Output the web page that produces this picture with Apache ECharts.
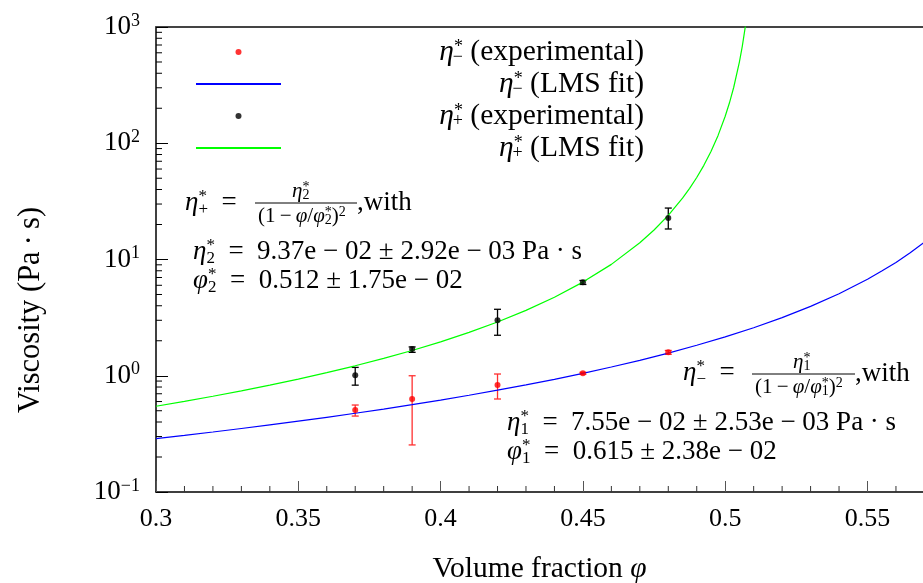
<!DOCTYPE html>
<html><head><meta charset="utf-8">
<script src="https://cdn.jsdelivr.net/npm/echarts@6/dist/echarts.min.js"></script>
<style>html,body{margin:0;padding:0;background:#fff}#c{width:923px;height:583px}</style>
</head><body><div id="c"></div>
<script>
// ---------- data ----------
const phiExp        = [0.37, 0.39, 0.42, 0.45, 0.48];
const etaMinusVal   = [0.507, 0.631, 0.833, 1.05, 1.59];
const etaMinusLow   = [0.45, 0.254, 0.631, 1.03, 1.53];
const etaMinusHigh  = [0.56, 1.00, 1.035, 1.07, 1.65];
const etaPlusVal    = [1.01, 1.70, 3.00, 6.37, 22.7];
const etaPlusLow    = [0.83, 1.59, 2.23, 6.10, 18.3];
const etaPlusHigh   = [1.18, 1.77, 3.73, 6.60, 27.7];

const phiFitMinus = [0.30,0.31,0.32,0.33,0.34,0.35,0.36,0.37,0.38,0.39,0.40,0.41,0.42,0.43,0.44,0.45,0.46,0.47,0.48,0.49,0.50,0.51,0.52,0.53,0.54,0.55,0.555,0.56,0.565,0.57];
const etaFitMinus = [0.2878,0.3070,0.3281,0.3516,0.3775,0.4066,0.4392,0.4757,0.5171,0.5641,0.6177,0.6795,0.7509,0.8344,0.9321,1.049,1.189,1.358,1.567,1.828,2.159,2.590,3.163,3.953,5.073,6.759,7.96,9.44,11.42,14.09];

const phiFitPlus = [0.30,0.31,0.32,0.33,0.34,0.35,0.36,0.37,0.38,0.39,0.40,0.41,0.42,0.43,0.44,0.45,0.46,0.47,0.475,0.48,0.485,0.4875,0.49,0.4925,0.495,0.4975,0.50,0.5015,0.503,0.505,0.506,0.507,0.508];
const etaFitPlus = [0.5464,0.6020,0.6663,0.7415,0.8305,0.9360,1.063,1.218,1.410,1.650,1.958,2.361,2.902,3.653,4.738,6.390,9.079,13.92,17.94,23.99,33.69,40.92,50.75,64.58,85.0,116.8,170.6,222.8,303.2,501.3,682.4,982.5,1536];

const yMinorTicks = [0.2,0.3,0.4,0.5,0.6,0.7,0.8,0.9,2,3,4,5,6,7,8,9,20,30,40,50,60,70,80,90,200,300,400,500,600,700,800,900];
const xMinorTicks = [0.31,0.32,0.33,0.34,0.36,0.37,0.38,0.39,0.41,0.42,0.43,0.44,0.46,0.47,0.48,0.49,0.51,0.52,0.53,0.54,0.56];

const xMin = 0.3, xMax = 0.5695, xStep = 0.05;
const yMin = 0.1, yMax = 1000;

const nExpMinus = 'eta- experimental', nFitMinus = 'eta- fit', nExpPlus = 'eta+ experimental', nFitPlus = 'eta+ fit';
const legendLabels = {};
legendLabels[nExpMinus] = '{e|η}{s|*}{b|−}{t| (experimental)}';
legendLabels[nFitMinus] = '{e|η}{s|*}{b|−}{t| (LMS fit)}';
legendLabels[nExpPlus]  = '{e|η}{s|*}{b|+}{t| (experimental)}';
legendLabels[nFitPlus]  = '{e|η}{s|*}{b|+}{t| (LMS fit)}';

// ---------- styles ----------
const F = "'Liberation Serif', 'Times New Roman', serif";
const BIG = 27, SUP = 17, LEG = 29.5;

const legendRich = {
  e: {fontFamily: F, fontStyle: 'italic', fontSize: LEG, lineHeight: 28, align: 'right', color: '#000'},
  t: {fontFamily: F, fontSize: LEG, lineHeight: 28, align: 'right', color: '#000'},
  s: {fontFamily: F, fontSize: 18, lineHeight: 12, verticalAlign: 'top', align: 'right', color: '#000'},
  b: {fontFamily: F, fontSize: 18, lineHeight: 12, verticalAlign: 'bottom', align: 'right', width: 0, color: '#000'}
};
const annRich = {
  m:   {fontFamily: F, fontSize: BIG, lineHeight: 30, color: '#000'},
  mi:  {fontFamily: F, fontSize: BIG, fontStyle: 'italic', lineHeight: 30, color: '#000'},
  st:  {fontFamily: F, fontSize: SUP, lineHeight: 12, verticalAlign: 'top', width: 0, color: '#000'},
  sb:  {fontFamily: F, fontSize: SUP, lineHeight: 12, verticalAlign: 'bottom', color: '#000'},
  fm:  {fontFamily: F, fontSize: 21, lineHeight: 22, color: '#000'},
  fmi: {fontFamily: F, fontSize: 21, fontStyle: 'italic', lineHeight: 22, color: '#000'},
  fst: {fontFamily: F, fontSize: 14, lineHeight: 9, verticalAlign: 'top', width: 0, color: '#000'},
  fsb: {fontFamily: F, fontSize: 14, lineHeight: 9, verticalAlign: 'bottom', color: '#000'},
  fsp: {fontFamily: F, fontSize: 14, lineHeight: 9, verticalAlign: 'top', color: '#000'}
};
function txt(x, y, text) {
  return {type: 'text', x: x, y: y, z: 50, style: {text: text, rich: annRich, align: 'left', verticalAlign: 'middle'}};
}
function bar(x1, x2, y) {
  return {type: 'line', z: 50, shape: {x1: x1, y1: y, x2: x2, y2: y}, style: {stroke: '#000', lineWidth: 1}};
}

function errorBars(color) {
  return function (params, api) {
    const x = api.value(0), lo = api.value(1), hi = api.value(2);
    const p1 = api.coord([x, lo]), p2 = api.coord([x, hi]);
    const w = 3.5;
    const st = {stroke: color, lineWidth: 1.3};
    return {type: 'group', children: [
      {type: 'line', shape: {x1: p1[0], y1: p1[1], x2: p2[0], y2: p2[1]}, style: st},
      {type: 'line', shape: {x1: p1[0] - w, y1: p1[1], x2: p1[0] + w, y2: p1[1]}, style: st},
      {type: 'line', shape: {x1: p2[0] - w, y1: p2[1], x2: p2[0] + w, y2: p2[1]}, style: st}
    ]};
  };
}

const chart = echarts.init(document.getElementById('c'), null, {renderer: 'canvas'});
const zip2 = (a, b) => a.map((v, i) => [v, b[i]]);
const zip3 = (a, b, c) => a.map((v, i) => [v, b[i], c[i]]);
const hiddenSym = {color: 'rgba(0,0,0,0)', borderWidth: 0, opacity: 0};

chart.setOption({
  animation: false,
  backgroundColor: '#fff',
  grid: {left: 156, top: 27, right: 0, bottom: 91, containLabel: false, outerBoundsMode: 'none'},
  xAxis: [{
    type: 'value', min: xMin, max: xMax, interval: xStep,
    axisLine: {show: true, onZero: false, lineStyle: {color: '#000', width: 1.5}},
    axisTick: {show: true, inside: true, length: 11, lineStyle: {color: '#555', width: 1}},
    minorTick: {show: false},
    splitLine: {show: false},
    axisLabel: {margin: 14, fontFamily: F, fontSize: 26, color: '#000', showMaxLabel: false},
    name: 'Volume fraction {i|φ}', nameLocation: 'middle', nameGap: 62,
    nameTextStyle: {fontFamily: F, fontSize: 29.5, color: '#000',
      rich: {i: {fontFamily: F, fontSize: 29.5, fontStyle: 'italic', color: '#000'}}}
  }, {
    type: 'value', position: 'top', min: xMin, max: xMax, interval: xStep,
    axisLine: {show: true, onZero: false, lineStyle: {color: '#444', width: 2}},
    axisTick: {show: false}, axisLabel: {show: false}, splitLine: {show: false}
  }],
  yAxis: {
    type: 'log', logBase: 10, min: yMin, max: yMax,
    axisLine: {show: true, onZero: false, lineStyle: {color: '#000', width: 1.5}},
    axisTick: {show: true, inside: true, length: 12, lineStyle: {color: '#000', width: 1}},
    splitLine: {show: false},
    axisLabel: {
      margin: 16,
      formatter: function (v) {
        const e = Math.round(Math.log10(v));
        return '{b|10}{e|' + (e < 0 ? '−' + (-e) : e) + '}';
      },
      rich: {
        b: {fontFamily: F, fontSize: 27, lineHeight: 30, color: '#000'},
        e: {fontFamily: F, fontSize: 18, lineHeight: 12, verticalAlign: 'top', color: '#000'}
      }
    },
    name: 'Viscosity (Pa\u2009·\u2009s)', nameLocation: 'middle', nameGap: 110, nameRotate: 90,
    nameTextStyle: {fontFamily: F, fontSize: 30.5, color: '#000', padding: [0, 101, 0, 0]}
  },
  legend: {
    left: 195, top: 37, orient: 'vertical', padding: 0,
    itemWidth: 85, itemHeight: 6, itemGap: 2, selectedMode: false,
    data: [
      {name: nExpMinus, icon: 'circle'},
      {name: nFitMinus, itemStyle: hiddenSym},
      {name: nExpPlus, icon: 'circle'},
      {name: nFitPlus, itemStyle: hiddenSym}
    ],
    formatter: function (n) { return legendLabels[n]; },
    textStyle: {width: 358, rich: legendRich}
  },
  graphic: [
    // eta_+ annotation
    txt(185, 203, '{mi|η}{st|*}{sb|+}{m|  =}'),
    bar(255, 357, 203),
    txt(292, 191, '{fmi|η}{fst|*}{fsb|2}'),
    txt(258, 216, '{fm|(1\u2009−\u2009}{fmi|φ}{fm|/}{fmi|φ}{fst|*}{fsb|2}{fm|)}{fsp|2}'),
    txt(357, 203, '{m|,with}'),
    txt(193, 252, '{mi|η}{st|*}{sb|2}{m|  =  9.37e − 02 ± 2.92e − 03 Pa · s}'),
    txt(193, 281, '{mi|φ}{st|*}{sb|2}{m|  =  0.512 ± 1.75e − 02}'),
    // eta_- annotation
    txt(683, 373, '{mi|η}{st|*}{sb|−}{m|  =}'),
    bar(752, 855, 374),
    txt(793, 362, '{fmi|η}{fst|*}{fsb|1}'),
    txt(755, 387, '{fm|(1\u2009−\u2009}{fmi|φ}{fm|/}{fmi|φ}{fst|*}{fsb|1}{fm|)}{fsp|2}'),
    txt(855, 374, '{m|,with}'),
    txt(507, 423, '{mi|η}{st|*}{sb|1}{m|  =  7.55e − 02 ± 2.53e − 03 Pa · s}'),
    txt(507, 452, '{mi|φ}{st|*}{sb|1}{m|  =  0.615 ± 2.38e − 02}')
  ],
  series: [
    {
      name: 'yminor', type: 'custom', silent: true, z: 5,
      data: yMinorTicks.map(v => [xMin, v]),
      renderItem: function (params, api) {
        const p = api.coord([api.value(0), api.value(1)]);
        return {type: 'line', shape: {x1: p[0], y1: p[1], x2: p[0] + 6, y2: p[1]}, style: {stroke: '#000', lineWidth: 1}};
      }
    },
    {
      name: 'xminor', type: 'custom', silent: true, z: 5,
      data: xMinorTicks.map(v => [v, yMin]),
      renderItem: function (params, api) {
        const p = api.coord([api.value(0), api.value(1)]);
        return {type: 'line', shape: {x1: p[0], y1: p[1], x2: p[0], y2: p[1] - 6}, style: {stroke: '#333', lineWidth: 1}};
      }
    },
    {
      name: 'err-', type: 'custom', silent: true, z: 2,
      data: zip3(phiExp, etaMinusLow, etaMinusHigh),
      encode: {x: 0, y: [1, 2]},
      renderItem: errorBars('#ff3030')
    },
    {
      name: nExpMinus, type: 'scatter', symbol: 'circle', symbolSize: 6, z: 3,
      itemStyle: {color: '#ff0000'}, data: zip2(phiExp, etaMinusVal)
    },
    {
      name: nFitMinus, type: 'line', symbol: 'none', smooth: false, z: 2,
      lineStyle: {color: '#0000ff', width: 1.2}, itemStyle: {color: '#0000ff'},
      data: zip2(phiFitMinus, etaFitMinus)
    },
    {
      name: 'err+', type: 'custom', silent: true, z: 2,
      data: zip3(phiExp, etaPlusLow, etaPlusHigh),
      encode: {x: 0, y: [1, 2]},
      renderItem: errorBars('#000000')
    },
    {
      name: nExpPlus, type: 'scatter', symbol: 'circle', symbolSize: 6, z: 3,
      itemStyle: {color: '#000000'}, data: zip2(phiExp, etaPlusVal)
    },
    {
      name: nFitPlus, type: 'line', symbol: 'none', smooth: false, z: 2,
      lineStyle: {color: '#00ff00', width: 1.2}, itemStyle: {color: '#00ff00'},
      data: zip2(phiFitPlus, etaFitPlus)
    }
  ]
});
</script>
</body></html>
